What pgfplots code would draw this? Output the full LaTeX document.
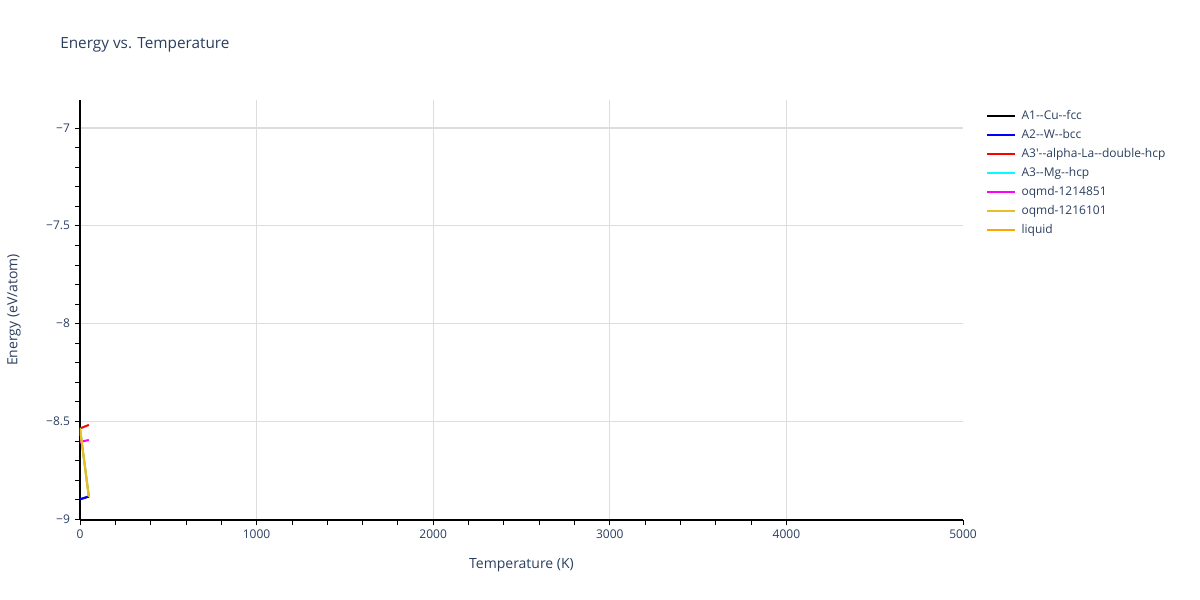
\documentclass[border=0pt]{standalone}
\usepackage{pgfplots}
\pgfplotsset{compat=1.18}
\usepackage{fontspec}
\setmainfont{Open Sans}
\definecolor{plotlytext}{HTML}{2A3F5F}
\definecolor{gridgrey}{HTML}{DDDDDD}
\definecolor{oqmdyellow}{HTML}{E6BE28}
\definecolor{liquidorange}{HTML}{FFA500}
\definecolor{pcyan}{HTML}{00FFFF}
\definecolor{pmagenta}{HTML}{FF00FF}
\definecolor{pblue}{HTML}{0000FF}
\definecolor{pred}{HTML}{FF0000}
\begin{document}
\begin{tikzpicture}[x=1pt,y=1pt]
\path (0,0) rectangle (900,450);
\node[anchor=west, inner sep=0pt, font=\fontsize{11.5}{13}\selectfont, text=plotlytext] at (45,416.25) {Energy vs. Temperature};
\begin{axis}[
  at={(60pt,60pt)}, anchor=south west,
  scale only axis, width=662.25pt, height=315pt,
  xmin=0, xmax=5000, ymin=-9.004, ymax=-6.857,
  axis x line*=bottom, axis y line*=left,
  axis line style={black, line width=0.8pt, -},
  xtick={0,1000,2000,3000,4000}, ytick={-9,-8.5,-8,-7.5,-7},
  xticklabels={0,1000,2000,3000,4000},
  extra x ticks={5000}, extra x tick labels={5000},
  extra x tick style={grid=none},
  yticklabels={−9,−8.5,−8,−7.5,−7},
  minor x tick num=4, minor y tick num=4,
  tick align=outside,
  major tick length=4pt, minor tick length=3.5pt,
  tick style={black, line width=0.6pt},
  grid=major, major grid style={gridgrey, line width=0.8pt},
  ticklabel style={font=\fontsize{9}{10}\selectfont, text=plotlytext},
  xlabel={Temperature (K)}, ylabel={Energy (eV/atom)},
  label style={font=\fontsize{10.5}{12}\selectfont, text=plotlytext},
  xlabel style={at={(rel axis cs:0.5,0)}, anchor=center, yshift=-34pt},
  ylabel style={at={(rel axis cs:-0.0747,0.5)}, anchor=center},
  legend style={at={(1.0215,0.982)}, anchor=north west, draw=none, fill=none,
    font=\fontsize{9}{10}\selectfont, text=plotlytext,
    nodes={inner sep=0pt, text height=7pt, text depth=2pt},
    row sep=5.25pt, column sep=4pt},
  legend cell align=left,
  legend image code/.code={\draw[#1, line width=1.5pt] (0pt,0pt) -- (21pt,0pt);},
  every axis plot/.append style={line width=1.5pt},
]
\addplot[black] coordinates {(0,-8.898) (50,-8.884)};
\addlegendentry{A1-{}-Cu-{}-fcc}
\addplot[pblue] coordinates {(0,-8.898) (50,-8.884)};
\addlegendentry{A2-{}-W-{}-bcc}
\addplot[pred] coordinates {(0,-8.536) (50,-8.518)};
\addlegendentry{A3\textquotesingle-{}-alpha-La-{}-double-hcp}
\addplot[pcyan] coordinates {(0,-8.536) (50,-8.884)};
\addlegendentry{A3-{}-Mg-{}-hcp}
\addplot[pmagenta] coordinates {(0,-8.605) (50,-8.595)};
\addlegendentry{oqmd-1214851}
\addplot[liquidorange, forget plot] coordinates {(0,-8.536) (50,-8.884)};
\addplot[oqmdyellow] coordinates {(0,-8.536) (50,-8.884)};
\addlegendentry{oqmd-1216101}
\addlegendimage{liquidorange}
\addlegendentry{liquid}
\end{axis}
\end{tikzpicture}
\end{document}
